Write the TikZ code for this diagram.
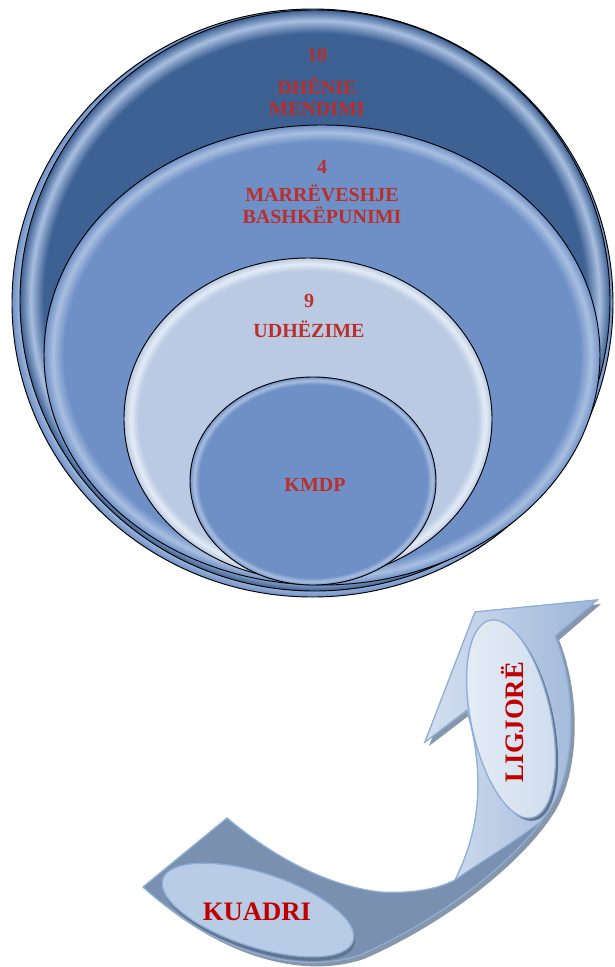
\documentclass[tikz,border=0pt]{standalone}
\usepackage{fontspec}
\setmainfont{Liberation Serif}
\usepackage{tikz}
\usetikzlibrary{shapes.geometric}
\definecolor{kmdpNavy}{HTML}{3D6193}
\definecolor{kmdpMid}{HTML}{6F90C6}
\definecolor{kmdpPale}{HTML}{BACAE2}
\definecolor{kmdpRim}{HTML}{A9BFE0}
\definecolor{kmdpPaleRim}{HTML}{E3EBF6}
\definecolor{kmdpRed}{HTML}{BA2E2C}
\definecolor{arrowDark}{HTML}{7A90B0}
\definecolor{arrowLight}{HTML}{D4E0EF}
\definecolor{arrowMid}{HTML}{9CB5D8}
\definecolor{arrowEdge}{HTML}{8DAED6}
\definecolor{arrowShade}{HTML}{8797AB}
\definecolor{ovalFill}{HTML}{B8CCE6}
\definecolor{labelRed}{HTML}{C00000}
\pgfdeclareradialshading{navyrim}{\pgfpoint{0bp}{0bp}}{color(0bp)=(kmdpNavy); color(23bp)=(kmdpNavy);
  color(24.1bp)=(kmdpRim); color(25bp)=(kmdpNavy); color(50bp)=(kmdpNavy)}
\pgfdeclareradialshading{midrim}{\pgfpoint{0bp}{0bp}}{color(0bp)=(kmdpMid); color(23.2bp)=(kmdpMid);
  color(24.2bp)=(kmdpRim); color(25bp)=(kmdpMid); color(50bp)=(kmdpMid)}
\pgfdeclareradialshading{palerim}{\pgfpoint{0bp}{0bp}}{color(0bp)=(kmdpPale); color(23bp)=(kmdpPale);
  color(24.1bp)=(kmdpPaleRim); color(25bp)=(kmdpPale); color(50bp)=(kmdpPale)}
\tikzset{
  ring/.style={ellipse,draw=black,line width=0.7pt,inner sep=0pt},
  ringtext/.style={align=center,text=kmdpRed,font=\fontsize{15}{16}\selectfont\bfseries},
  oval/.style={ellipse,draw=arrowEdge,line width=1pt,inner sep=0pt},
  ovaltext/.style={text=labelRed,font=\fontsize{20}{24}\selectfont\bfseries}
}
\begin{document}
\begin{tikzpicture}[x=0.75pt,y=-0.75pt]
\useasboundingbox (0,0) rectangle (614,967);

% nested rings
\node[ring,shading=midrim,minimum width=450.75pt,minimum height=441pt] (ringBack) at (312.5,303) {};
\node[ring,shading=navyrim,minimum width=442.5pt,minimum height=435.75pt] (ringOuter) at (315,300.5) {};
\node[ring,shading=midrim,minimum width=417pt,minimum height=345pt] (ringAgree) at (322,355) {};
\node[ring,shading=palerim,minimum width=276pt,minimum height=241.5pt] (ringGuide) at (308,419) {};
\node[ring,shading=midrim,minimum width=184.5pt,minimum height=156pt] (ringCore) at (313,481) {};

\node[ringtext] (lblOpinion) at (317,82) {10\\[8.75pt]DHËNIE\\MENDIMI};
\node[ringtext] (lblAgree) at (322,192) {4\\[5pt]MARRËVESHJE\\BASHKËPUNIMI};
\node[ringtext] (lblGuide) at (309,316) {9\\[6.5pt]UDHËZIME};
\node[ringtext] (lblCore) at (315,485) {KMDP};

% curved arrow
\draw[arrowEdge,line width=1pt,fill=arrowDark,
  preaction={fill=arrowShade,transform canvas={xshift=3pt,yshift=-3pt}}]
  (143,887) -- (227,818)
  .. controls (265,850) and (320,885) .. (380,892)
  .. controls (415,894) and (440,888) .. (455,880)
  .. controls (478,835) and (487,780) .. (467,710)
  -- (425,742) -- (475,612) -- (597,600) -- (555,636)
  .. controls (577,690) and (577,770) .. (548,812)
  .. controls (515,862) and (440,920) .. (360,955)
  .. controls (300,975) and (220,955) .. (143,887) -- cycle;
\draw[arrowEdge,line width=0.8pt,left color=arrowLight,right color=arrowMid]
  (455,880) .. controls (478,835) and (487,780) .. (467,710)
  -- (425,742) -- (475,612) -- (597,600) -- (555,636)
  .. controls (577,690) and (577,770) .. (548,812)
  -- (540,822) .. controls (510,845) and (480,862) .. (455,880) -- cycle;

\node[oval,fill=ovalFill,minimum width=150pt,minimum height=55.5pt,rotate=-18,
  preaction={fill=arrowDark!80!black,transform canvas={xshift=1pt,yshift=-3pt}}] (kuadriOval) at (258,910) {};
\node[oval,left color=arrowLight!60!white,right color=arrowLight!85!ovalFill,minimum width=60pt,minimum height=151.5pt,rotate=12,
  preaction={fill=arrowDark!80!black,transform canvas={xshift=2pt,yshift=-2pt}}] (ligjoreOval) at (511,719) {};

\node[ovaltext] (kuadri) at (257,912) {KUADRI};
\node[ovaltext,rotate=90] (ligjore) at (513,722) {LIGJORË};
\end{tikzpicture}
\end{document}
